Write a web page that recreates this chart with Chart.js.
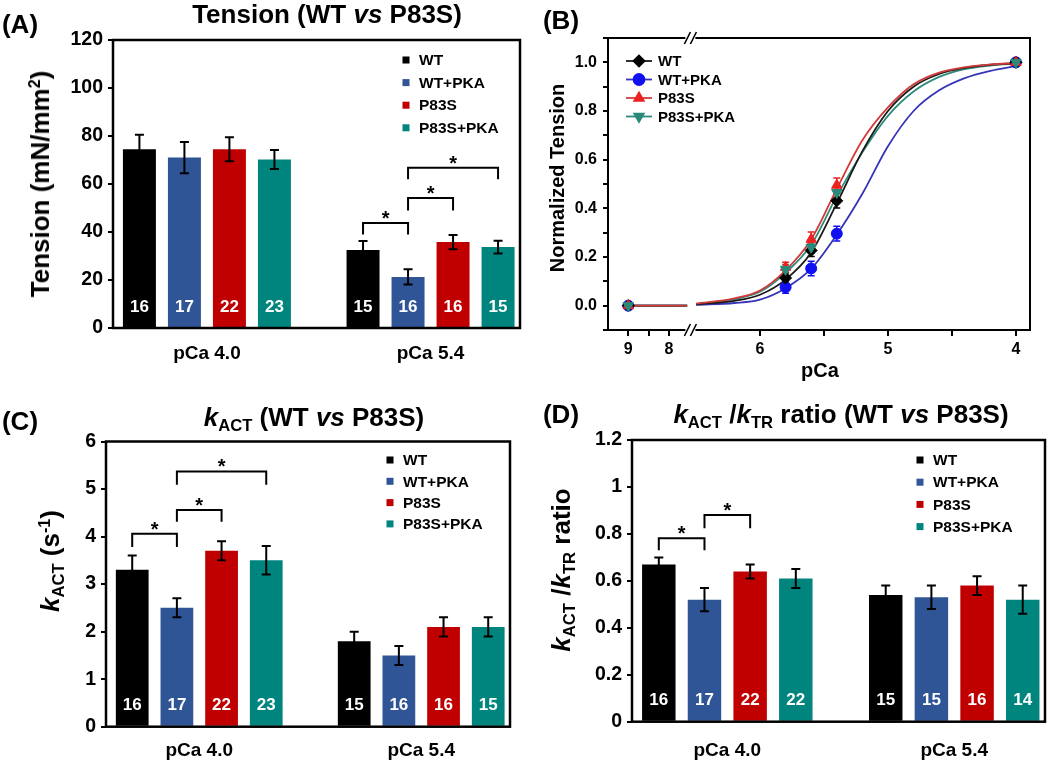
<!DOCTYPE html>
<html><head><meta charset="utf-8">
<script src="https://cdn.jsdelivr.net/npm/chart.js@4.4.0/dist/chart.umd.min.js"></script>
<style>
html,body{margin:0;padding:0;background:#fff;}
#wrap{position:relative;width:1050px;height:762px;overflow:hidden;font-family:"Liberation Sans",Arial,sans-serif;font-weight:bold;color:#000;}
canvas{position:absolute;}
.t{position:absolute;white-space:nowrap;transform:translate(-50%,-50%);line-height:1;}
.r{transform:translate(-50%,-50%) rotate(-90deg);}
sub{font-size:0.64em;vertical-align:-0.28em;line-height:0;}
sup{font-size:0.62em;vertical-align:0.55em;line-height:0;}
</style></head>
<body>
<div id="wrap">
<canvas id="cA" width="525" height="380" style="left:0;top:0;width:525px;height:380px"></canvas>
<canvas id="cB" width="525" height="380" style="left:525px;top:0;width:525px;height:380px"></canvas>
<canvas id="cC" width="525" height="382" style="left:0;top:380px;width:525px;height:382px"></canvas>
<canvas id="cD" width="525" height="382" style="left:525px;top:380px;width:525px;height:382px"></canvas>

<div class="t" style="left:20px;top:24px;font-size:26px">(A)</div>
<div class="t" style="left:327px;top:14px;font-size:26px">Tension (WT <i>vs</i> P83S)</div>
<div class="t r" style="left:40px;top:184px;font-size:26px">Tension (mN/mm<sup>2</sup>)</div>

<div class="t" style="left:561px;top:20px;font-size:26px">(B)</div>
<div class="t r" style="left:557px;top:178px;font-size:20px">Normalized Tension</div>
<div class="t" style="left:820px;top:370px;font-size:20px">pCa</div>

<div class="t" style="left:20px;top:421px;font-size:26px">(C)</div>
<div class="t" style="left:314px;top:417px;font-size:26px"><i>k</i><sub>ACT</sub> (WT <i>vs</i> P83S)</div>
<div class="t r" style="left:50px;top:561px;font-size:26px"><i>k</i><sub>ACT</sub> (s<sup>-1</sup>)</div>

<div class="t" style="left:561px;top:414px;font-size:26px">(D)</div>
<div class="t" style="left:841px;top:414px;font-size:26px"><i>k</i><sub>ACT</sub> /<i>k</i><sub>TR</sub> ratio (WT <i>vs</i> P83S)</div>
<div class="t r" style="left:561px;top:570px;font-size:26px"><i>k</i><sub>ACT</sub> /<i>k</i><sub>TR</sub> ratio</div>
</div>

<script>
// ---------------- DATA ----------------
const groups = ['pCa 4.0', 'pCa 5.4'];
const seriesNames = ['WT', 'WT+PKA', 'P83S', 'P83S+PKA'];

// Panel A: tension (mN/mm2), per series [pCa 4.0, pCa 5.4]
const tensionMean = [[74.5, 32.5], [71.0, 21.3], [74.5, 35.8], [70.2, 33.7]];
const tensionSem  = [[6.0, 3.8], [6.5, 3.2], [5.0, 3.0], [4.0, 2.7]];
const tensionN    = [[16, 15], [17, 16], [22, 16], [23, 15]];
// significance brackets: [group, seriesA, seriesB, leg bottom, bracket top]
const tensionSig  = [[1, 0, 1, 39.0, 43.8], [1, 1, 2, 49.0, 54.2], [1, 1, 3, 62.0, 66.8]];
const tensionTicks = [0, 20, 40, 60, 80, 100, 120];

// Panel C: kACT (s-1)
const kactMean = [[3.3, 1.8], [2.5, 1.5], [3.7, 2.1], [3.5, 2.1]];
const kactSem  = [[0.3, 0.2], [0.2, 0.2], [0.2, 0.2], [0.3, 0.2]];
const kactN    = [[16, 15], [17, 16], [22, 16], [23, 15]];
const kactSig  = [[0, 0, 1, 3.78, 4.06], [0, 1, 2, 4.31, 4.56], [0, 1, 3, 5.09, 5.37]];
const kactTicks = [0, 1, 2, 3, 4, 5, 6];

// Panel D: kACT/kTR ratio
const ratioMean = [[0.67, 0.54], [0.52, 0.53], [0.64, 0.58], [0.61, 0.52]];
const ratioSem  = [[0.03, 0.04], [0.05, 0.05], [0.03, 0.04], [0.04, 0.06]];
const ratioN    = [[16, 15], [17, 15], [22, 16], [22, 14]];
const ratioSig  = [[0, 0, 1, 0.73, 0.781], [0, 1, 2, 0.824, 0.881]];
const ratioTicks = [0, 0.2, 0.4, 0.6, 0.8, 1, 1.2];

// Panel B: normalized tension vs pCa
const pCaPoints = [9, 5.8, 5.6, 5.4, 4];
const normWT       = [0, 0.114, 0.227, 0.431, 1.0];
const normWTPKA    = [0, 0.076, 0.153, 0.296, 1.0];
const normP83S     = [0, 0.158, 0.273, 0.495, 1.0];
const normP83SPKA  = [0, 0.149, 0.240, 0.465, 1.0];
const errWT        = [0, 0.02, 0.025, 0.03, 0];
const errWTPKA     = [0, 0.025, 0.03, 0.03, 0];
const errP83S      = [0, 0.02, 0.03, 0.03, 0];
const errP83SPKA   = [0, 0.02, 0.025, 0.03, 0];
// fitted curves
const pCaFit = [6.5, 6.2, 6.0, 5.8, 5.6, 5.4, 5.2, 5.0, 4.8, 4.6, 4.4, 4.2, 4.0];
const fitWT      = [0.005, 0.02, 0.045, 0.107, 0.218, 0.42, 0.635, 0.80, 0.90, 0.952, 0.977, 0.99, 0.996];
const fitWTPKA   = [0.003, 0.011, 0.025, 0.072, 0.152, 0.292, 0.46, 0.655, 0.80, 0.885, 0.935, 0.965, 0.985];
const fitP83S    = [0.008, 0.03, 0.062, 0.145, 0.272, 0.48, 0.68, 0.815, 0.91, 0.958, 0.98, 0.991, 0.997];
const fitP83SPKA = [0.007, 0.027, 0.057, 0.135, 0.25, 0.45, 0.63, 0.78, 0.88, 0.94, 0.972, 0.987, 0.995];
const pCaBaseline = [9, 7.55];
const baselineLevel = [0, 0];
const pCaTicks = [9, 8, 6, 5, 4];
const pCaMinorTicks = [8.5, 5.5, 4.5];
const normTicks = [0, 0.2, 0.4, 0.6, 0.8, 1.0];

// ---------------- STYLE ----------------
const FONT = '"Liberation Sans", Arial, sans-serif';
Chart.defaults.font.family = FONT;
Chart.defaults.color = '#000';
const barColors = ['#000000', '#2F5597', '#C00000', '#00857E'];

// ---------------- BAR PANELS ----------------
const barDeco = {
  id: 'barDeco',
  afterDatasetsDraw(chart, args, o) {
    const ctx = chart.ctx, ys = chart.scales.y, ca = chart.chartArea;
    ctx.save();
    chart.data.datasets.forEach((ds, di) => {
      const meta = chart.getDatasetMeta(di);
      meta.data.forEach((bar, i) => {
        const v = ds.data[i].y, e = ds.err[i];
        const yt = ys.getPixelForValue(v + e), yb = ys.getPixelForValue(v - e);
        ctx.strokeStyle = '#000'; ctx.lineWidth = 2;
        ctx.beginPath();
        ctx.moveTo(bar.x, yt); ctx.lineTo(bar.x, yb);
        ctx.moveTo(bar.x - 4.5, yt); ctx.lineTo(bar.x + 4.5, yt);
        ctx.moveTo(bar.x - 4.5, yb); ctx.lineTo(bar.x + 4.5, yb);
        ctx.stroke();
        ctx.fillStyle = '#fff';
        ctx.font = 'bold 17px ' + FONT;
        ctx.textAlign = 'center'; ctx.textBaseline = 'middle';
        ctx.fillText(String(ds.n[i]), bar.x, ca.bottom - 21);
      });
    });
    // significance brackets
    o.sig.forEach(([g, a, b, bot, top]) => {
      const xa = chart.getDatasetMeta(a).data[g].x, xb = chart.getDatasetMeta(b).data[g].x;
      const yt = ys.getPixelForValue(top), ybt = ys.getPixelForValue(bot);
      ctx.strokeStyle = '#000'; ctx.lineWidth = 2;
      ctx.beginPath();
      ctx.moveTo(xa, ybt); ctx.lineTo(xa, yt); ctx.lineTo(xb, yt); ctx.lineTo(xb, ybt);
      ctx.stroke();
      ctx.fillStyle = '#000';
      ctx.font = 'bold 20px ' + FONT;
      ctx.textAlign = 'center'; ctx.textBaseline = 'alphabetic';
      ctx.fillText('*', (xa + xb) / 2, yt + 2);
    });
    // legend
    const lx = ca.right - o.legX;
    chart.data.datasets.forEach((ds, di) => {
      const ly = ca.top + o.legY + di * o.legDy;
      ctx.fillStyle = ds.backgroundColor;
      ctx.fillRect(lx - 3.5, ly - 3.5, 7, 7);
      ctx.fillStyle = '#000';
      ctx.font = 'bold 15.5px ' + FONT;
      ctx.textAlign = 'left'; ctx.textBaseline = 'middle';
      ctx.fillText(ds.label, lx + 13, ly + 1);
    });
    // frame
    ctx.strokeStyle = '#000'; ctx.lineWidth = 2.5;
    ctx.strokeRect(ca.left, ca.top, ca.width, ca.height);
    ctx.restore();
  }
};

function fmtNum(v) { return String(Math.round(v * 100) / 100); }

function barPanel(id, o) {
  const datasets = seriesNames.map((name, s) => ({
    label: name,
    data: groups.map((g, gi) => ({ x: gi, y: o.mean[s][gi] })),
    err: o.sem[s],
    n: o.n[s],
    backgroundColor: barColors[s],
    borderWidth: 0,
    categoryPercentage: 0.805,
    barPercentage: 0.733
  }));
  return new Chart(document.getElementById(id), {
    type: 'bar',
    data: { datasets },
    options: {
      responsive: false, animation: false, devicePixelRatio: 1,
      layout: { padding: { left: 0, top: o.padTop, right: o.padRight, bottom: 0 } },
      plugins: {
        legend: { display: false }, tooltip: { enabled: false },
        barDeco: { sig: o.sig, legX: o.legX, legY: o.legY, legDy: o.legDy }
      },
      scales: {
        x: {
          type: 'linear', min: -0.42, max: 1.40, offset: false,
          afterFit: s => { s.height = o.xH; },
          grid: { display: false, drawTicks: false, offset: false },
          border: { display: false },
          ticks: {
            stepSize: 1, includeBounds: false, autoSkip: false, maxRotation: 0,
            padding: o.xPad, color: '#000',
            font: { size: 19, weight: 'bold' },
            callback: v => (groups[v] !== undefined ? groups[v] : '')
          }
        },
        y: {
          min: o.ticks[0], max: o.ticks[o.ticks.length - 1],
          afterFit: s => { s.width = o.yW; },
          afterBuildTicks: s => { s.ticks = o.ticks.map(v => ({ value: v })); },
          border: { display: false },
          grid: { display: true, drawOnChartArea: false, drawTicks: true, tickLength: 5, color: '#000', lineWidth: 2 },
          ticks: { padding: 5, color: '#000', autoSkip: false, font: { size: 19.5, weight: 'bold' }, callback: v => fmtNum(v) }
        }
      }
    },
    plugins: [barDeco]
  });
}

barPanel('cA', { mean: tensionMean, sem: tensionSem, n: tensionN, sig: tensionSig, ticks: tensionTicks,
  yW: 113, padTop: 40, padRight: 5, xH: 52, xPad: 14, legX: 114, legY: 20, legDy: 22.6 });
barPanel('cC', { mean: kactMean, sem: kactSem, n: kactN, sig: kactSig, ticks: kactTicks,
  yW: 106, padTop: 61.5, padRight: 15, xH: 35.3, xPad: 13, legX: 120, legY: 18.5, legDy: 21.3 });
barPanel('cD', { mean: ratioMean, sem: ratioSem, n: ratioN, sig: ratioSig, ticks: ratioTicks,
  yW: 107, padTop: 60, padRight: 5, xH: 40.3, xPad: 18, legX: 125, legY: 20, legDy: 22.2 });

// ---------------- PANEL B: broken pCa axis ----------------
const brokenSegments = [
  { hi: 9.5, lo: 7.55, d0: 0, d1: 0.1876 },
  { hi: 6.55, lo: 3.89, d0: 0.1934, d1: 1 }
];
class BrokenAxis extends Chart.LinearScale {
  static id = 'brokenAxis';
  static defaults = {};
  buildTicks() {
    const vals = pCaTicks.concat(pCaMinorTicks).sort((a, b) => b - a);
    this.start = this.min; this.end = this.max;
    return vals.map(v => ({ value: v }));
  }
  toDecimal(v) {
    const [A, B] = brokenSegments;
    if (v >= A.lo) return A.d0 + (A.hi - v) / (A.hi - A.lo) * (A.d1 - A.d0);
    if (v <= B.hi) return B.d0 + (B.hi - v) / (B.hi - B.lo) * (B.d1 - B.d0);
    return A.d1 + (A.lo - v) / (A.lo - B.hi) * (B.d0 - A.d1);
  }
  getPixelForValue(v) {
    if (v === null || v === undefined || isNaN(v)) return NaN;
    return this.getPixelForDecimal(this.toDecimal(v));
  }
  getValueForPixel(p) {
    const d = (p - this._startPixel) / this._length;
    const [A, B] = brokenSegments;
    if (d <= A.d1) return A.hi - (d - A.d0) / (A.d1 - A.d0) * (A.hi - A.lo);
    return B.hi - (d - B.d0) / (B.d1 - B.d0) * (B.hi - B.lo);
  }
}
Chart.register(BrokenAxis);

const bSeries = [
  { name: 'WT', norm: normWT, err: errWT, fit: fitWT, mColor: '#000000', lColor: '#1a1a1a', style: 'rectRot', rot: 0, r: 6, mOrder: 2, lOrder: 11 },
  { name: 'WT+PKA', norm: normWTPKA, err: errWTPKA, fit: fitWTPKA, mColor: '#1010F0', lColor: '#3535B8', style: 'circle', rot: 0, r: 5.5, mOrder: 3, lOrder: 13 },
  { name: 'P83S', norm: normP83S, err: errP83S, fit: fitP83S, mColor: '#EE2020', lColor: '#D23A3A', style: 'triangle', rot: 0, r: 6, mOrder: 1, lOrder: 10 },
  { name: 'P83S+PKA', norm: normP83SPKA, err: errP83SPKA, fit: fitP83SPKA, mColor: '#2A8A7A', lColor: '#2E8B78', style: 'triangle', rot: 180, r: 6, mOrder: 0, lOrder: 12 }
];
const bDatasets = [];
bSeries.forEach(s => {
  bDatasets.push({
    label: s.name, kind: 'marker', err: s.err,
    data: pCaPoints.map((p, i) => ({ x: p, y: s.norm[i] })),
    showLine: false, pointStyle: s.style, rotation: s.rot, pointRadius: s.r,
    backgroundColor: s.mColor, borderColor: s.mColor, pointBorderWidth: 1, order: s.mOrder
  });
});
bSeries.forEach(s => {
  bDatasets.push({
    label: s.name + ' fit', kind: 'fit',
    data: pCaBaseline.map((p, i) => ({ x: p, y: baselineLevel[i] }))
      .concat([{ x: 7, y: null }])
      .concat(pCaFit.map((p, i) => ({ x: p, y: s.fit[i] }))),
    showLine: true, spanGaps: false, pointRadius: 0, borderColor: s.lColor, borderWidth: 1.8,
    cubicInterpolationMode: 'monotone', order: s.lOrder
  });
});

const bDeco = {
  id: 'bDeco',
  beforeDatasetsDraw(chart) {
    const ctx = chart.ctx, ys = chart.scales.y, xs = chart.scales.x;
    ctx.save();
    chart.data.datasets.forEach(ds => {
      if (ds.kind !== 'marker') return;
      ds.data.forEach((pt, i) => {
        const e = ds.err[i];
        if (!e) return;
        const x = xs.getPixelForValue(pt.x);
        const yt = ys.getPixelForValue(pt.y + e), yb = ys.getPixelForValue(pt.y - e);
        ctx.strokeStyle = ds.borderColor; ctx.lineWidth = 1.5;
        ctx.beginPath();
        ctx.moveTo(x, yt); ctx.lineTo(x, yb);
        ctx.moveTo(x - 3.5, yt); ctx.lineTo(x + 3.5, yt);
        ctx.moveTo(x - 3.5, yb); ctx.lineTo(x + 3.5, yb);
        ctx.stroke();
      });
    });
    ctx.restore();
  },
  afterDatasetsDraw(chart) {
    const ctx = chart.ctx, ca = chart.chartArea, xs = chart.scales.x;
    ctx.save();
    // legend
    let row = 0;
    chart.data.datasets.forEach(ds => {
      if (ds.kind !== 'marker') return;
      const y = ca.top + 23 + row * 18.5;
      const fitDs = chart.data.datasets.find(d => d.label === ds.label + ' fit');
      ctx.strokeStyle = fitDs.borderColor; ctx.lineWidth = 1.8;
      ctx.beginPath(); ctx.moveTo(ca.left + 18, y); ctx.lineTo(ca.left + 44, y); ctx.stroke();
      ctx.fillStyle = ds.backgroundColor; ctx.strokeStyle = ds.borderColor;
      Chart.helpers.drawPoint(ctx, { pointStyle: ds.pointStyle, rotation: ds.rotation, radius: 5.5, borderWidth: 1 }, ca.left + 31, y);
      ctx.fillStyle = '#000'; ctx.font = 'bold 15px ' + FONT;
      ctx.textAlign = 'left'; ctx.textBaseline = 'middle';
      ctx.fillText(ds.label, ca.left + 50, y + 1);
      row++;
    });
    // frame
    ctx.strokeStyle = '#000'; ctx.lineWidth = 2;
    ctx.strokeRect(ca.left, ca.top, ca.width, ca.height);
    // axis break marks
    const A = brokenSegments[0], B = brokenSegments[1];
    const bx = xs.getPixelForDecimal((A.d1 + B.d0) / 2);
    [ca.top, ca.bottom].forEach(y => {
      ctx.fillStyle = '#fff';
      ctx.fillRect(bx - 3, y - 3, 10, 6);
      ctx.strokeStyle = '#000'; ctx.lineWidth = 1.6;
      ctx.beginPath();
      ctx.moveTo(bx - 4, y + 6); ctx.lineTo(bx + 2, y - 6);
      ctx.moveTo(bx + 2, y + 6); ctx.lineTo(bx + 8, y - 6);
      ctx.stroke();
    });
    ctx.restore();
  }
};

new Chart(document.getElementById('cB'), {
  type: 'scatter',
  data: { datasets: bDatasets },
  options: {
    responsive: false, animation: false, devicePixelRatio: 1,
    layout: { padding: { left: 0, top: 38, right: 20, bottom: 0 } },
    plugins: { legend: { display: false }, tooltip: { enabled: false } },
    scales: {
      x: {
        type: 'brokenAxis', min: 3.89, max: 9.5,
        afterFit: s => { s.height = 50; },
        border: { display: false },
        grid: { display: true, drawOnChartArea: false, drawTicks: true, tickLength: 6, color: '#000', lineWidth: 2 },
        ticks: { autoSkip: false, maxRotation: 0, padding: 4, color: '#000', font: { size: 16, weight: 'bold' },
          callback: v => (pCaTicks.includes(v) ? String(v) : '') }
      },
      y: {
        min: -0.1, max: 1.1,
        afterFit: s => { s.width = 83; },
        border: { display: false },
        grid: { display: true, drawOnChartArea: false, drawTicks: true, tickLength: 5, color: '#000', lineWidth: 2 },
        ticks: { stepSize: 0.1, autoSkip: false, padding: 6, color: '#000', font: { size: 16, weight: 'bold' },
          callback: v => {
            const r = Math.round(v * 10) / 10;
            return normTicks.some(t => Math.abs(t - r) < 1e-6) ? r.toFixed(1) : '';
          } }
      }
    }
  },
  plugins: [bDeco]
});
</script>
</body></html>
